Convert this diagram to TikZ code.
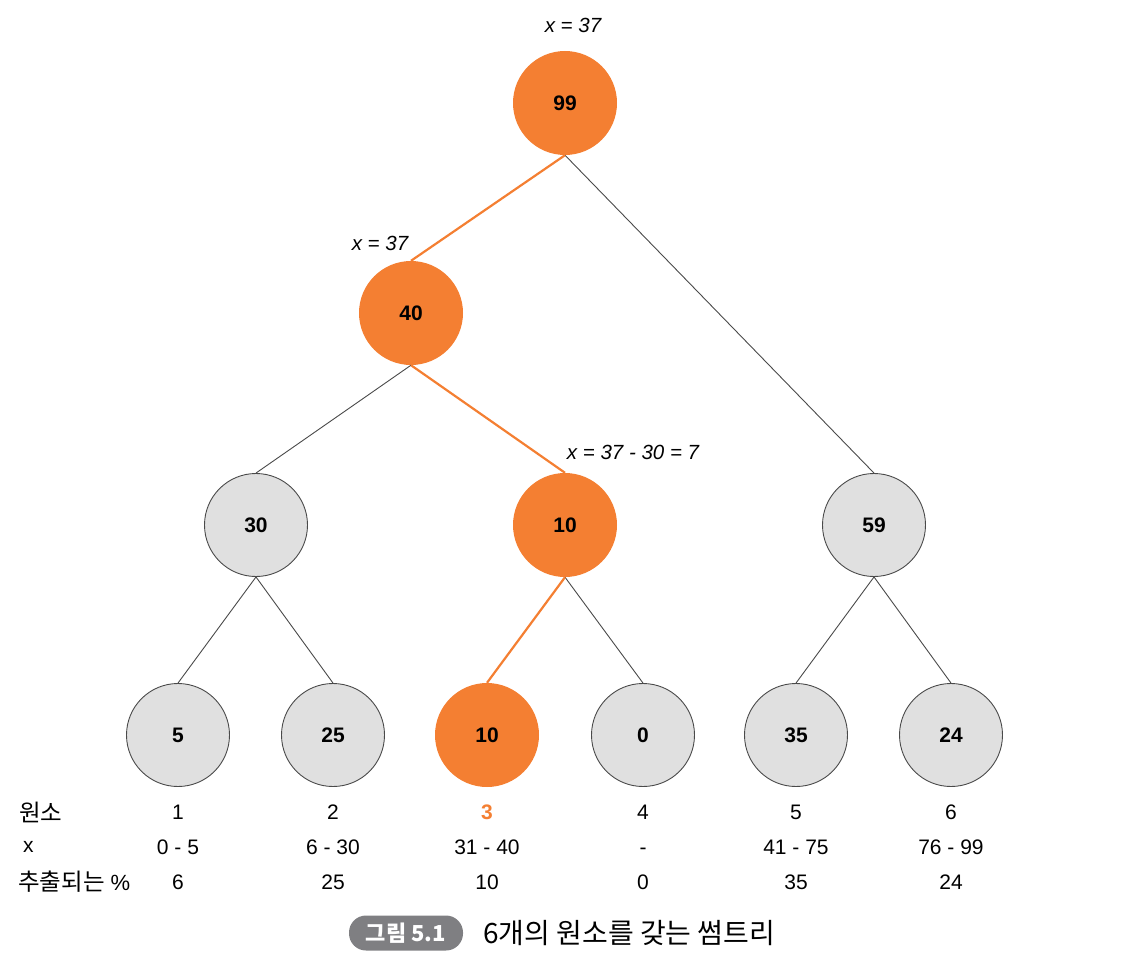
\documentclass[tikz,border=0pt]{standalone}
\usepackage{fontspec}
\setmainfont{Liberation Sans}
\newfontfamily\kr{Noto Sans CJK KR}
\definecolor{org}{HTML}{F47F32}
\definecolor{gfill}{HTML}{E0E0E0}
\definecolor{gline}{HTML}{4A4A4A}
\definecolor{badge}{HTML}{7F7F82}
\begin{document}
\begin{tikzpicture}[x=1pt,y=-1pt,
  hot/.style={circle,fill=org,minimum size=104pt,inner sep=0pt,font=\fontsize{21}{22}\selectfont\bfseries},
  cold/.style={circle,fill=gfill,draw=gline,line width=0.9pt,minimum size=103pt,inner sep=0pt,font=\fontsize{21}{22}\selectfont\bfseries},
  hedge/.style={draw=org,line width=2.2pt},
  cedge/.style={draw=gline,line width=0.9pt},
  lab/.style={font=\fontsize{20.5}{22}\selectfont\itshape,inner sep=0pt},
  cell/.style={font=\fontsize{21}{22}\selectfont,inner sep=0pt,anchor=center,text height=15pt,text depth=0pt},
  rowlab/.style={font=\fontsize{21}{22}\selectfont,inner sep=0pt,anchor=west}]
\path[use as bounding box] (0,0) rectangle (1124,971);
% nodes
\node[hot]  (r)  at (565,103) {99};
\node[hot]  (a)  at (411,313) {40};
\node[cold] (b1) at (256,525) {30};
\node[hot]  (b2) at (565,525) {10};
\node[cold] (b3) at (874,525) {59};
\node[cold] (l1) at (178,735) {5};
\node[cold] (l2) at (333,735) {25};
\node[hot]  (l3) at (487,735) {10};
\node[cold] (l4) at (643,735) {0};
\node[cold] (l5) at (796,735) {35};
\node[cold] (l6) at (951,735) {24};
% edges
\draw[cedge] (r.south) -- (b3.north);
\draw[cedge] (a.south) -- (b1.north);
\draw[cedge] (b1.south) -- (l1.north);
\draw[cedge] (b1.south) -- (l2.north);
\draw[cedge] (b2.south) -- (l4.north);
\draw[cedge] (b3.south) -- (l5.north);
\draw[cedge] (b3.south) -- (l6.north);
\draw[hedge] (r.south) -- (a.north);
\draw[hedge] (a.south) -- (b2.north);
\draw[hedge] (b2.south) -- (l3.north);
% labels
\node[lab] (t1) at (573,25) {x = 37};
\node[lab] (t2) at (380,243) {x = 37};
\node[lab] (t3) at (633,452) {x = 37 - 30 = 7};
% table
\node[rowlab] (h1) at (19,812) {{\kr\fontsize{23.5}{22}\selectfont 원소}};
\node[rowlab] (h2) at (23,847) {x};
\node[rowlab] (h3) at (18,882) {{\kr\fontsize{23.5}{22}\selectfont 추출되는} {\fontsize{22}{22}\selectfont\%}};
\foreach \xx/\n/\rr/\p [count=\i] in {178/1/0 - 5/6, 333/2/6 - 30/25, 487/3/31 - 40/10, 643/4/-/0, 796/5/41 - 75/35, 951/6/76 - 99/24}{
  \ifnum\i=3
    \node[cell,text=org,font=\fontsize{21}{22}\selectfont\bfseries] (e\i) at (\xx,812) {\n};
  \else
    \node[cell] (e\i) at (\xx,812) {\n};
  \fi
  \node[cell] (x\i) at (\xx,847) {\rr};
  \node[cell] (p\i) at (\xx,882) {\p};
}
% caption
\node[fill=badge,rounded corners=17pt,minimum width=114pt,minimum height=35pt,inner sep=0pt,text=white,font=\kr\fontsize{22}{22}\selectfont\bfseries] (cap) at (406,933) {그림 5.1};
\node[anchor=west,inner sep=0pt,font=\kr\fontsize{28}{28}\selectfont] (capt) at (483,933) {6개의 원소를 갖는 썸트리};
\end{tikzpicture}
\end{document}
